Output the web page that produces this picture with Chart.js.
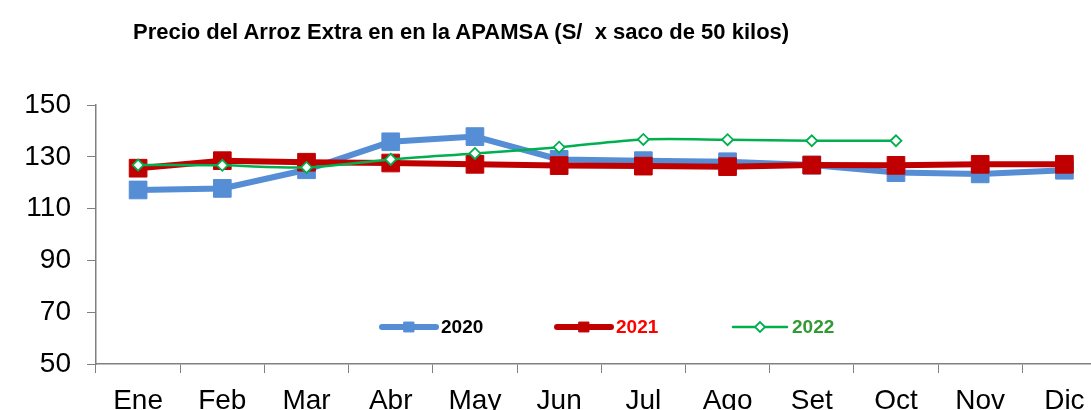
<!DOCTYPE html>
<html lang="es">
<head>
    <meta charset="UTF-8">
    <title>Precio del Arroz Extra - APAMSA</title>
    <script src="https://cdn.jsdelivr.net/npm/chart.js"></script>
    <style>
        html, body { margin: 0; padding: 0; background: #fff; overflow: hidden; width: 1091px; }
        #wrap { position: relative; width: 1091px; height: 410px; overflow: hidden; }
        #chart { position: absolute; left: 0; top: 0; }
        #title {
            position: absolute; left: 133px; top: 19px; z-index: 1;
            font: bold 22px "Liberation Sans", Arial, sans-serif;
            color: #000; white-space: pre;
        }
    </style>
</head>
<body>
    <div id="wrap">
        <div id="title">Precio del Arroz Extra en en la APAMSA (S/  x saco de 50 kilos)</div>
        <canvas id="chart" width="1120" height="410"></canvas>
    </div>

    <script>
        // Data
        const months = ['Ene', 'Feb', 'Mar', 'Abr', 'May', 'Jun', 'Jul', 'Ago', 'Set', 'Oct', 'Nov', 'Dic'];
        const yTicks = [50, 70, 90, 110, 130, 150];
        const price2020 = [117.2, 117.8, 125.0, 135.8, 137.8, 129.0, 128.5, 128.1, 126.8, 123.9, 123.4, 124.8];
        const price2021 = [125.6, 128.5, 127.9, 127.6, 127.1, 126.6, 126.4, 126.2, 126.8, 126.7, 127.1, 127.1];
        const price2022 = [126.8, 126.7, 125.9, 129.0, 131.3, 133.7, 136.7, 136.6, 136.2, 136.2];

        const FONT = '"Liberation Sans", Arial, sans-serif';

        // Legend drawn inside the plot area, like the original
        const insideLegend = {
            id: 'insideLegend',
            afterDatasetsDraw(chart) {
                const ctx = chart.ctx;
                const items = [
                    { ds: 0, x: 382, text: '2020', color: '#000000' },
                    { ds: 1, x: 557, text: '2021', color: '#FF0000' },
                    { ds: 2, x: 733, text: '2022', color: '#339933' }
                ];
                const y = 327;
                const len = 54;
                items.forEach(it => {
                    const d = chart.data.datasets[it.ds];
                    ctx.save();
                    ctx.strokeStyle = d.borderColor;
                    ctx.lineWidth = d.borderWidth;
                    ctx.lineCap = 'round';
                    ctx.beginPath();
                    ctx.moveTo(it.x, y);
                    ctx.lineTo(it.x + len, y);
                    ctx.stroke();

                    ctx.fillStyle = d.pointBackgroundColor;
                    ctx.strokeStyle = d.pointBorderColor;
                    ctx.lineWidth = d.pointBorderWidth;
                    Chart.helpers.drawPoint(ctx, {
                        pointStyle: d.pointStyle,
                        radius: d.legendRadius,
                        borderWidth: d.pointBorderWidth
                    }, it.x + len / 2, y);

                    ctx.fillStyle = it.color;
                    ctx.font = 'bold 19px ' + FONT;
                    ctx.textBaseline = 'middle';
                    ctx.fillText(it.text, it.x + len + 5, y + 1);
                    ctx.restore();
                });
            }
        };

        const ctx = document.getElementById('chart').getContext('2d');
        new Chart(ctx, {
            type: 'line',
            data: {
                labels: months,
                datasets: [
                    {
                        label: '2020',
                        data: price2020,
                        borderColor: '#558ED5',
                        borderWidth: 6,
                        pointStyle: 'rect',
                        pointRadius: 12.5,
                        legendRadius: 7,
                        pointBackgroundColor: '#558ED5',
                        pointBorderColor: '#558ED5',
                        pointBorderWidth: 1,
                        tension: 0,
                        order: 2
                    },
                    {
                        label: '2021',
                        data: price2021,
                        borderColor: '#C00000',
                        borderWidth: 6,
                        pointStyle: 'rect',
                        pointRadius: 12.5,
                        legendRadius: 7,
                        pointBackgroundColor: '#C00000',
                        pointBorderColor: '#C00000',
                        pointBorderWidth: 1,
                        tension: 0,
                        order: 1
                    },
                    {
                        label: '2022',
                        data: price2022,
                        borderColor: '#00B050',
                        borderWidth: 2.5,
                        pointStyle: 'rectRot',
                        pointRadius: 5.5,
                        legendRadius: 5,
                        pointBackgroundColor: '#FFFFFF',
                        pointBorderColor: '#00B050',
                        pointBorderWidth: 1.8,
                        tension: 0.3,
                        order: 0
                    }
                ]
            },
            options: {
                responsive: false,
                animation: false,
                layout: { padding: { top: 105, right: 0, left: 0, bottom: 0 } },
                plugins: {
                    legend: { display: false },
                    title: { display: false },
                    tooltip: { enabled: false }
                },
                scales: {
                    x: {
                        offset: true,
                        grid: {
                            offset: true,
                            drawOnChartArea: false,
                            drawTicks: true,
                            tickLength: 9,
                            color: '#808080'
                        },
                        border: { color: '#808080', width: 1.5 },
                        ticks: {
                            color: '#000',
                            font: { family: FONT, size: 28 },
                            padding: 11,
                            maxRotation: 0,
                            autoSkip: false
                        },
                        afterFit(scale) { scale.height = 46; }
                    },
                    y: {
                        min: 50,
                        max: 150,
                        afterBuildTicks(scale) { scale.ticks = yTicks.map(v => ({ value: v })); },
                        grid: {
                            drawOnChartArea: false,
                            drawTicks: true,
                            tickLength: 9,
                            color: '#808080'
                        },
                        border: { color: '#808080', width: 1.5 },
                        ticks: {
                            color: '#000',
                            font: { family: FONT, size: 28 },
                            padding: 16
                        },
                        afterFit(scale) { scale.width = 96; }
                    }
                }
            },
            plugins: [insideLegend]
        });
    </script>
</body>
</html>
